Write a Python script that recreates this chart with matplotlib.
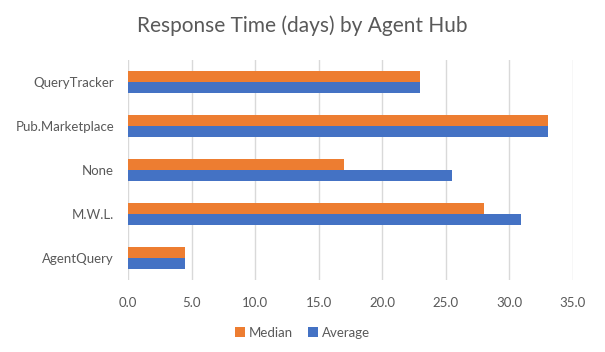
import matplotlib.pyplot as plt
import numpy as np

hubs = ["AgentQuery", "M.W.L.", "None", "Pub.Marketplace", "QueryTracker"]
median = [4.5, 28.0, 17.0, 33.0, 23.0]
average = [4.5, 30.9, 25.5, 33.0, 23.0]

plt.rcParams['font.family'] = ['Lato', 'DejaVu Sans']
text_col = '#595959'

fig = plt.figure(figsize=(6.05, 3.52), dpi=100)
ax = fig.add_axes([0.2116, 0.2045, 0.7355, 0.625])

y = np.arange(len(hubs))
h = 0.25
ax.barh(y - h / 2, average, height=h, color='#4472C4', label='Average', zorder=3)
ax.barh(y + h / 2, median, height=h, color='#ED7D31', label='Median', zorder=3)

ax.set_xlim(0, 35)
ax.set_ylim(-0.5, len(hubs) - 0.5)
ax.set_xticks(np.arange(0, 36, 5))
ax.set_xticklabels([f"{v:.1f}" for v in np.arange(0, 36, 5)])
ax.set_yticks(y)
ax.set_yticklabels(hubs)
ax.tick_params(axis='both', length=0, labelsize=9.5, colors=text_col)
ax.tick_params(axis='x', pad=12)
ax.tick_params(axis='y', pad=10)
ax.grid(axis='x', color='#D9D9D9', linewidth=1, zorder=0)
for s in ax.spines.values():
    s.set_visible(False)

fig.suptitle('Response Time (days) by Agent Hub', y=0.955, fontsize=15, color=text_col)

handles, labels = ax.get_legend_handles_labels()
fig.legend(handles[::-1], labels[::-1], loc='center', bbox_to_anchor=(0.5, 0.055), ncol=2,
           frameon=False, fontsize=9.5, labelcolor=text_col, handlelength=0.7,
           handleheight=0.7, handletextpad=0.3, columnspacing=1.2)

fig.savefig('out.png', dpi=100)
